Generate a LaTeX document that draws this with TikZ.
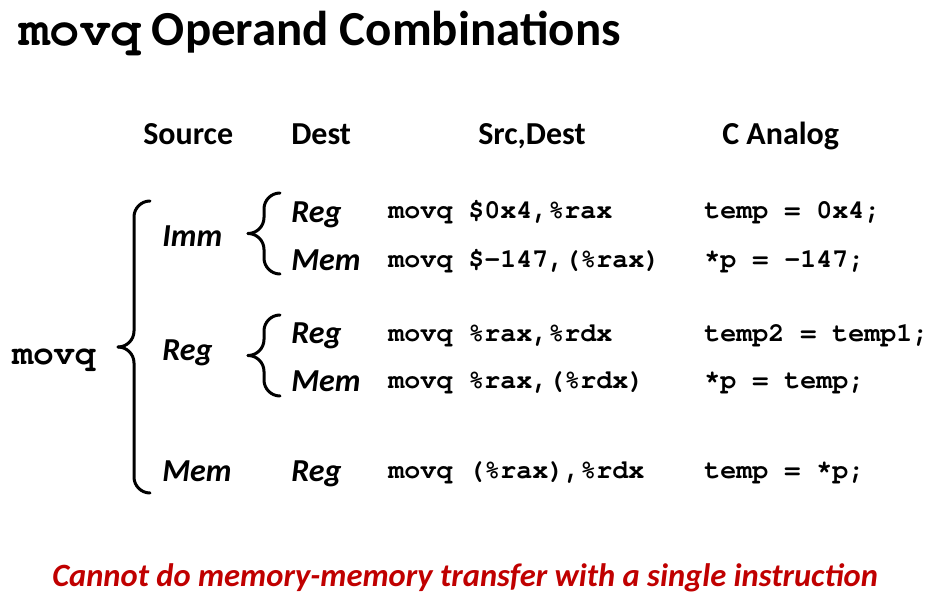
\documentclass[tikz,border=0pt]{standalone}
\usepackage{fontspec}
\setmainfont{Carlito}
\newfontfamily\codefont{TeX Gyre Cursor}
\definecolor{warnred}{HTML}{C00000}

\begin{document}
\begin{tikzpicture}
  [x=.75pt,y=-.75pt,every node/.style={inner sep=0pt,anchor=base west}]
  \tikzstyle{title} = [font=\fontsize{36.7}{40}\selectfont\bfseries]
  \tikzstyle{head} = [font=\fontsize{24}{28}\selectfont\bfseries]
  \tikzstyle{kind} = [font=\fontsize{24}{28}\selectfont\bfseries\itshape]
  \tikzstyle{code} = [font=\fontsize{20}{24}\selectfont\codefont\bfseries]
  \tikzstyle{bracel} = [line width=2.25pt,line cap=round,rounded corners=12pt]
  \useasboundingbox (0,0) rectangle (935,602);

  \node[title] (title) at (19,46)
    {{\fontsize{38}{42}\selectfont\codefont movq} Operand Combinations};

  \node[head] (hsrc) at (143,145) {Source};
  \node[head] (hdst) at (291,145) {Dest};
  \node[head] (hins) at (478,145) {Src,Dest};
  \node[head] (hana) at (722,145) {C Analog};

  \node[code,font=\fontsize{26}{30}\selectfont\codefont\bfseries] (op) at (12,364) {movq};

  \node[kind] (src1) at (162,246.5) {Imm};
  \node[kind] (src2) at (162,360) {Reg};
  \node[kind] (src3) at (162,481.5) {Mem};

  \node[kind] (dst1) at (291,222.5) {Reg};
  \node[kind] (dst2) at (291,270.5) {Mem};
  \node[kind] (dst3) at (291,344) {Reg};
  \node[kind] (dst4) at (291,391) {Mem};
  \node[kind] (dst5) at (291,481.5) {Reg};

  % instruction and its C meaning, one row each
  \foreach \n/\y/\ins/\ana in {1/219/{movq \$0x4,\%rax}/{temp = 0x4;},
                             2/267.5/{movq \$-147,(\%rax)}/{*p = -147;},
                             3/341/{movq \%rax,\%rdx}/{temp2 = temp1;},
                             4/388/{movq \%rax,(\%rdx)}/{*p = temp;},
                             5/478.5/{movq (\%rax),\%rdx}/{temp = *p;}}
  {
    \node[code] (ins\n) at (388,\y) {\ins};
    \node[code] (ana\n) at (704,\y) {\ana};
  }

  % braces: end x / top / bottom / depth
  \foreach \xe/\yt/\yb/\dp in {150/201/493/32, 280/193/274/32, 280/315/396/32}
  {
    \draw[bracel] (\xe,\yt) -| (\xe-\dp/2,{(\yt+\yb)/2}) -- (\xe-\dp,{(\yt+\yb)/2});
    \draw[bracel] (\xe,\yb) -| (\xe-\dp/2,{(\yt+\yb)/2}) -- (\xe-\dp,{(\yt+\yb)/2});
  }

  \node[kind,text=warnred,font=\fontsize{24.4}{28}\selectfont\bfseries\itshape] (warn) at (52,586)
    {Cannot do memory-memory transfer with a single instruction};
\end{tikzpicture}
\end{document}
